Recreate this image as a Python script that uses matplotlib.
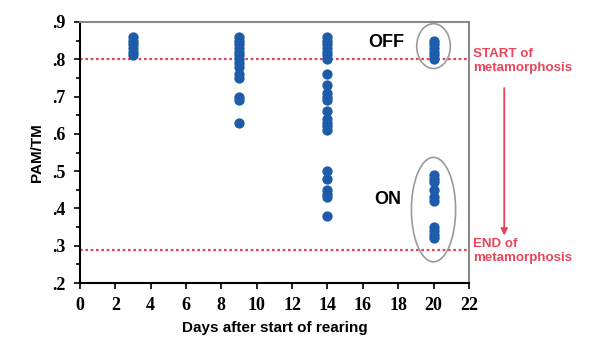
import matplotlib.pyplot as plt
from matplotlib.patches import Ellipse

# PAM/TM readings per sampling day
day3 = [0.86, 0.85, 0.84, 0.83, 0.82, 0.81]
day9 = [0.86, 0.85, 0.84, 0.83, 0.82, 0.81, 0.80, 0.79, 0.78, 0.76, 0.75,
        0.70, 0.69, 0.63]
day14 = [0.86, 0.85, 0.84, 0.83, 0.82, 0.81, 0.80, 0.76, 0.73, 0.71, 0.70,
         0.69, 0.66, 0.64, 0.63, 0.62, 0.61, 0.50, 0.48, 0.45, 0.44, 0.43,
         0.38]
day20 = [0.85, 0.84, 0.83, 0.82, 0.81, 0.80, 0.49, 0.48, 0.47, 0.45, 0.43,
         0.42, 0.35, 0.34, 0.33, 0.32]
days = [3, 9, 14, 20]
start_level = 0.80
end_level = 0.29

fig = plt.figure(figsize=(5.92, 3.47), dpi=100)
ax = fig.add_axes([0.135, 0.184, 0.657, 0.753])

blue = '#1d5cab'
for d, vals in zip(days, [day3, day9, day14, day20]):
    ax.scatter([d] * len(vals), vals, s=55, color=blue, zorder=3, linewidths=0)

red = '#e8455a'
ax.axhline(start_level, color=red, ls=(0, (1.2, 1.2)), lw=1.6, zorder=2)
ax.axhline(end_level, color=red, ls=(0, (1.2, 1.2)), lw=1.6, zorder=2)

# circled groups at day 20
ax.add_patch(Ellipse((20, 0.835), 1.9, 0.12, fill=False, ec='#9a9a9a', lw=1.2, zorder=4))
ax.add_patch(Ellipse((20, 0.397), 2.5, 0.28, fill=False, ec='#9a9a9a', lw=1.2, zorder=4))
ax.text(17.3, 0.845, 'OFF', fontsize=13, fontweight='bold', ha='center', va='center',
        family='Liberation Sans')
ax.text(17.4, 0.425, 'ON', fontsize=13, fontweight='bold', ha='center', va='center',
        family='Liberation Sans')

ax.set_xlim(0, 22)
ax.set_ylim(0.2, 0.9)
ax.set_xticks(range(0, 23, 2))
ax.set_yticks([0.2, 0.3, 0.4, 0.5, 0.6, 0.7, 0.8, 0.9])
ax.set_yticks([0.25, 0.35, 0.45, 0.55, 0.65, 0.75, 0.85], minor=True)
ax.set_yticklabels(['.2', '.3', '.4', '.5', '.6', '.7', '.8', '.9'])
for lab in ax.get_xticklabels() + ax.get_yticklabels():
    lab.set_family('Liberation Serif')
    lab.set_fontweight('bold')
    lab.set_fontsize(13)
ax.tick_params(axis='both', direction='out', length=4, width=1.2, pad=6)
ax.tick_params(axis='y', which='minor', direction='out', length=3, width=1.2)

for s in ['left', 'bottom']:
    ax.spines[s].set_linewidth(1.5)
for s in ['top', 'right']:
    ax.spines[s].set_color('#8a8a8a')
    ax.spines[s].set_linewidth(1.5)

ax.set_xlabel('Days after start of rearing', fontsize=11, fontweight='bold',
              family='Liberation Sans', labelpad=5)
ax.set_ylabel('PAM/TM', fontsize=11, fontweight='bold', family='Liberation Sans',
              labelpad=6)

# annotations to the right of the plot
ax.text(1.01, 0.795, 'START of\nmetamorphosis', transform=ax.get_yaxis_transform(),
        color=red, fontsize=9.6, fontweight='bold', va='center', ha='left',
        family='Liberation Sans', linespacing=1.2, clip_on=False)
ax.text(1.01, 0.287, 'END of\nmetamorphosis', transform=ax.get_yaxis_transform(),
        color=red, fontsize=9.6, fontweight='bold', va='center', ha='left',
        family='Liberation Sans', linespacing=1.2, clip_on=False)
ax.annotate('', xy=(24.0, 0.32), xytext=(24.0, 0.73), xycoords='data',
            arrowprops=dict(arrowstyle='-|>', color=red, lw=1.3, mutation_scale=10),
            annotation_clip=False)

fig.savefig('out.png', dpi=100)
